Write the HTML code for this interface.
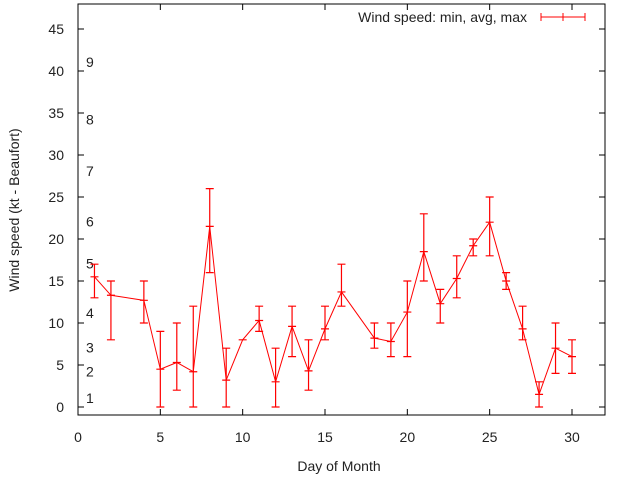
<!DOCTYPE html>
<html><head><meta charset="utf-8"><style>
body{margin:0;background:#fff}
svg text{font-family:"Liberation Sans",sans-serif;font-size:14px;fill:#222}
</style></head><body>
<svg id="c" width="640" height="480" xmlns="http://www.w3.org/2000/svg"></svg>
<script>
const days=[1,2,4,5,6,7,8,9,10,11,12,13,14,15,16,18,19,20,21,22,23,24,25,26,27,28,29,30];
const avgs=[15.5,13.3,12.7,4.5,5.3,4.2,21.5,3.2,8,10.3,3,9.6,4.3,9.3,13.7,8.2,7.8,11.3,18.5,12.3,15.3,19.2,22,15,9.3,1.5,7,6];
const mins=[13,8,10,0,2,0,16,0,8,9,0,6,2,8,12,7,6,6,15,10,13,18,18,14,8,0,4,4];
const maxs=[17,15,15,9,10,12,26,7,8,12,7,12,8,12,17,10,10,15,23,14,18,20,25,16,12,3,10,8];
const xTicks=[0,5,10,15,20,25,30];
const yTicks=[0,5,10,15,20,25,30,35,40,45];
const bftLabels=["1","2","3","4","5","6","7","8","9"];
const bftY=[1.1,4.2,7.1,11.2,17.1,22.1,28.1,34.2,41.1];
const L=78,R=605,T=4,B=415;
const X=v=>L+v*(572-78)/30;
const Y=v=>407-v*(407-29)/45;
const s=document.getElementById('c');const NS='http://www.w3.org/2000/svg';
function el(t,a,txt){const e=document.createElementNS(NS,t);for(const k in a)e.setAttribute(k,a[k]);if(txt!==undefined)e.textContent=txt;s.appendChild(e);return e;}
let e;
e=el('rect',{x:L,y:T,width:R-L,height:B-T,fill:'none',stroke:'#000','stroke-width':1});

xTicks.forEach(v=>{
 e=el('path',{d:`M${X(v)},${B}v-6M${X(v)},${T}v6`,stroke:'#000'});
 
 e=el('text',{x:X(v),y:B+27,'text-anchor':'middle'},v);
 
});
yTicks.forEach(v=>{
 e=el('path',{d:`M${L},${Y(v)}h6M${R},${Y(v)}h-6`,stroke:'#000'});
 
 e=el('text',{x:L-14,y:Y(v)+5,'text-anchor':'end'},v);
 
});
bftLabels.forEach((b,i)=>{
 e=el('text',{x:86,y:Y(bftY[i])+5},b);
 
});
e=el('text',{x:339,y:471,'text-anchor':'middle'},'Day of Month');

e=el('text',{x:19,y:210,'text-anchor':'middle',transform:'rotate(-90 19 210)'},'Wind speed (kt - Beaufort)');

e=el('polyline',{points:days.map((d,i)=>X(d)+','+Y(avgs[i])).join(' '),fill:'none',stroke:'#f00','stroke-width':1});

days.forEach((d,i)=>{
 const x=X(d);
 e=el('path',{d:`M${x},${Y(mins[i])}V${Y(maxs[i])}M${x-4},${Y(mins[i])}h8M${x-4},${Y(maxs[i])}h8M${x-4},${Y(avgs[i])}h8`,stroke:'#f00','stroke-width':1.2,fill:'none'});
 
});
e=el('text',{x:527,y:22,'text-anchor':'end'},'Wind speed: min, avg, max');

e=el('path',{d:'M541,17h44M541,13v8M563,13v8M585,13v8',stroke:'#f00','stroke-width':1});

</script>
</body></html>
